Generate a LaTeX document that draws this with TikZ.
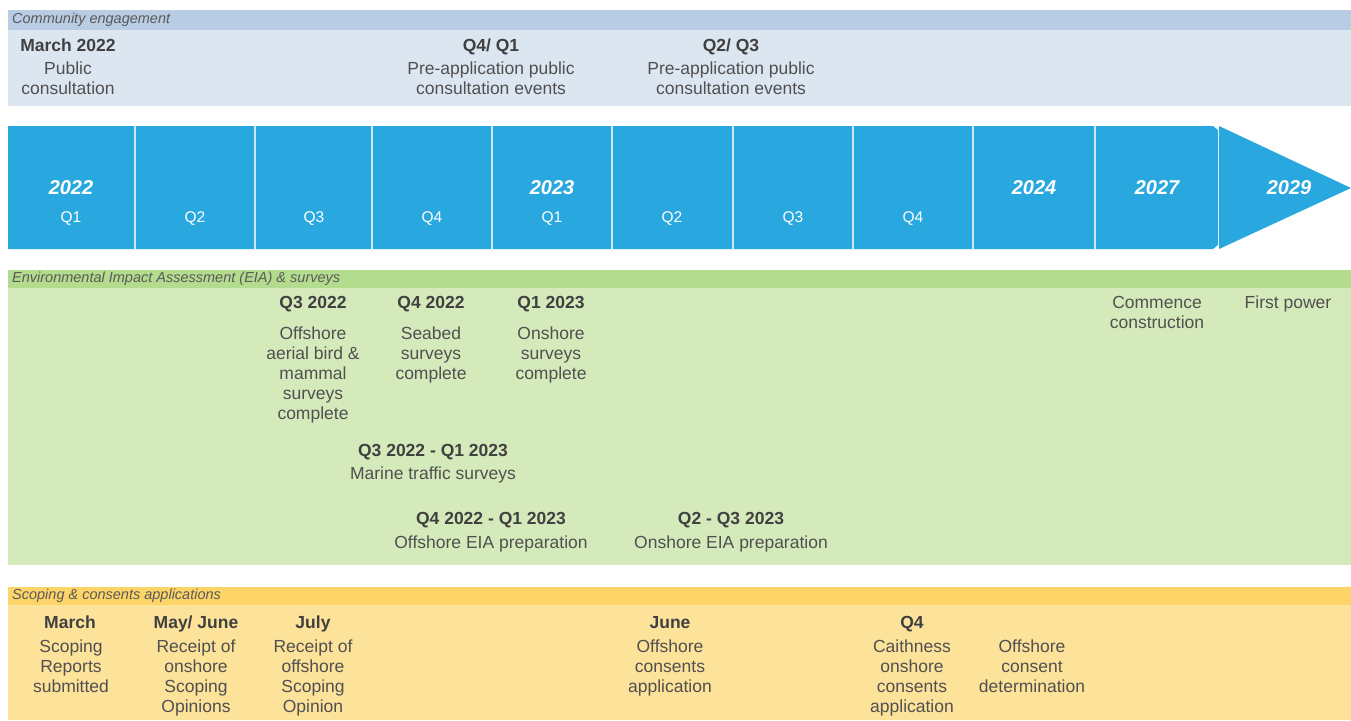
\documentclass[tikz,border=0pt]{standalone}
\usepackage{fontspec}
\setmainfont{Liberation Sans}
\usepackage{xcolor}
\usetikzlibrary{positioning}

\definecolor{commhead}{HTML}{B8CCE4}
\definecolor{commbody}{HTML}{DCE6F1}
\definecolor{timeline}{HTML}{29A8E0}
\definecolor{divline}{HTML}{CFE6F2}
\definecolor{eiahead}{HTML}{B4DC8F}
\definecolor{eiabody}{HTML}{D5EABB}
\definecolor{scopehead}{HTML}{FDD468}
\definecolor{scopebody}{HTML}{FDE29A}
\definecolor{headtext}{HTML}{404040}
\definecolor{bodytext}{HTML}{505050}
\definecolor{titletext}{HTML}{5A5A5A}

\tikzset{
  bandtitle/.style={anchor=west, inner sep=0pt,
    font=\fontsize{14.5}{16}\selectfont\itshape, text=titletext},
  when/.style={anchor=north, inner sep=0pt,
    font=\fontsize{17.5}{20}\selectfont\bfseries, text=headtext},
  what/.style={anchor=north, inner sep=0pt, align=center,
    font=\fontsize{17.5}{20}\selectfont, text=bodytext},
  yearlabel/.style={inner sep=0pt,
    font=\fontsize{20}{22}\selectfont\bfseries\itshape, text=white},
  quarterlabel/.style={inner sep=0pt,
    font=\fontsize{15.5}{17}\selectfont, text=white},
}

\begin{document}
\begin{tikzpicture}[x=1pt, y=-1pt]

\useasboundingbox (0,0) rectangle (1351,720);
\fill[white] (0,0) rectangle (1351,720);

% Community engagement band
\fill[commhead] (8,10) rectangle (1351,30);
\fill[commbody] (8,30) rectangle (1351,106);
\node[bandtitle] (Comm-title) at (12,20) {Community engagement};

\node[when] (Comm-mar22) at (68,39) {March 2022};
\node[what] (Comm-public) at (68,62) {Public\\consultation};
\node[when] (Comm-q4q1) at (491,39) {Q4/ Q1};
\node[what] (Comm-pre1) at (491,62) {Pre-application public\\consultation events};
\node[when] (Comm-q2q3) at (731,39) {Q2/ Q3};
\node[what] (Comm-pre2) at (731,62) {Pre-application public\\consultation events};

% Timeline arrow
\fill[timeline] (8,126) -- (1213,126) -- (1218,130) -- (1218,245) -- (1213,249)
  -- (8,249) -- cycle;
\fill[timeline] (1219,126) -- (1351,188) -- (1219,249) -- cycle;
\foreach \b in {135,255,372,492,612,733,853,973,1095}
{
  \draw[divline, line width=1.4pt] (\b,126) -- (\b,249);
}

% Quarters
\foreach \x/\q [count=\i] in {71/Q1,195/Q2,314/Q3,432/Q4,552/Q1,672/Q2,793/Q3,913/Q4}
{
  \node[quarterlabel] (Quarter-\i) at (\x,219) {\q};
}

% Years
\foreach \x/\y in {71/2022,552/2023,1034/2024,1157/2027,1289/2029}
{
  \node[yearlabel] (Year-\y) at (\x,188) {\y};
}

% EIA & surveys band
\fill[eiahead] (8,270) rectangle (1351,288);
\fill[eiabody] (8,288) rectangle (1351,565);
\node[bandtitle] (EIA-title) at (12,279)
  {Environmental Impact Assessment (EIA) \& surveys};

\node[when] (EIA-q322) at (313,296) {Q3 2022};
\node[what] (EIA-bird) at (313,327)
  {Offshore\\aerial bird \&\\mammal\\surveys\\complete};
\node[when] (EIA-q422) at (431,296) {Q4 2022};
\node[what] (EIA-seabed) at (431,327) {Seabed\\surveys\\complete};
\node[when] (EIA-q123) at (551,296) {Q1 2023};
\node[what] (EIA-onshore) at (551,327) {Onshore\\surveys\\complete};

\node[when] (EIA-marineq) at (433,444) {Q3 2022 - Q1 2023};
\node[what] (EIA-marine) at (433,467) {Marine traffic surveys};
\node[when] (EIA-offq) at (491,512) {Q4 2022 - Q1 2023};
\node[what] (EIA-off) at (491,536) {Offshore EIA preparation};
\node[when] (EIA-onq) at (731,512) {Q2 - Q3 2023};
\node[what] (EIA-on) at (731,536) {Onshore EIA preparation};

\node[what] (EIA-build) at (1157,296) {Commence\\construction};
\node[what] (EIA-power) at (1288,296) {First power};

% Scoping & consents band
\fill[scopehead] (8,587) rectangle (1351,605);
\fill[scopebody] (8,605) rectangle (1351,720);
\node[bandtitle] (Scope-title) at (12,596) {Scoping \& consents applications};

\node[when] (Scope-mar) at (70,616) {March};
\node[what] (Scope-reports) at (71,640) {Scoping\\Reports\\submitted};
\node[when] (Scope-mayjun) at (196,616) {May/ June};
\node[what] (Scope-onop) at (196,640) {Receipt of\\onshore\\Scoping\\Opinions};
\node[when] (Scope-jul) at (313,616) {July};
\node[what] (Scope-offop) at (313,640) {Receipt of\\offshore\\Scoping\\Opinion};
\node[when] (Scope-jun) at (670,616) {June};
\node[what] (Scope-offapp) at (670,640) {Offshore\\consents\\application};
\node[when] (Scope-q4) at (912,616) {Q4};
\node[what] (Scope-caith) at (912,640)
  {Caithness\\onshore\\consents\\application};
\node[what] (Scope-det) at (1032,640) {Offshore\\consent\\determination};

\end{tikzpicture}
\end{document}
